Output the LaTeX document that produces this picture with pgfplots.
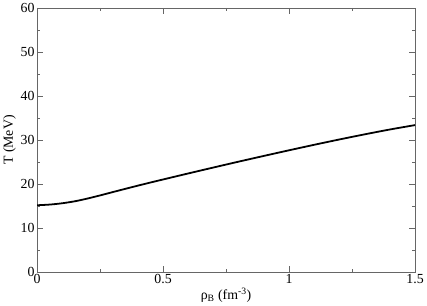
\documentclass[border=0pt]{standalone}
\usepackage{pgfplots}
\pgfplotsset{compat=1.18}
\usepackage{fontspec}
\setmainfont{Liberation Serif}
\begin{document}
\begin{tikzpicture}
\begin{axis}[
  scale only axis,
  width=382pt, height=267pt,
  xmin=0, xmax=1.5, ymin=0, ymax=60,
  xtick={0,0.5,1,1.5}, ytick={0,10,20,30,40,50,60},
  minor xtick={0.25,0.75,1.25},
  minor ytick={5,15,25,35,45,55},
  tick align=inside,
  major tick length=6pt, minor tick length=3pt,
  axis line style={draw=black!60, line width=0.9pt},
  every tick/.style={draw=black!60, line width=0.8pt},
  tick label style={font=\fontsize{14}{16}\selectfont},
  /pgf/number format/assume math mode=true,
  xticklabel style={yshift=1pt},
  yticklabel style={xshift=1pt},
  xlabel={ρ\textsubscript{B} (fm\textsuperscript{-3})},
  ylabel={T (MeV)},
  label style={font=\fontsize{14}{16}\selectfont},
  ylabel style={yshift=-2pt},
  xlabel style={yshift=3pt},
]
\addplot[black, line width=1.8pt, smooth] coordinates {
(0,15.2) (0.05,15.35) (0.1,15.65) (0.15,16.1) (0.2,16.72) (0.25,17.43) (0.3,18.18)
(0.35,18.92) (0.4,19.65) (0.45,20.36) (0.5,21.05) (0.6,22.42) (0.7,23.77) (0.8,25.1)
(0.9,26.4) (1.0,27.68) (1.1,28.93) (1.2,30.14) (1.3,31.3) (1.4,32.4) (1.5,33.4)
};
\end{axis}
\end{tikzpicture}
\end{document}
